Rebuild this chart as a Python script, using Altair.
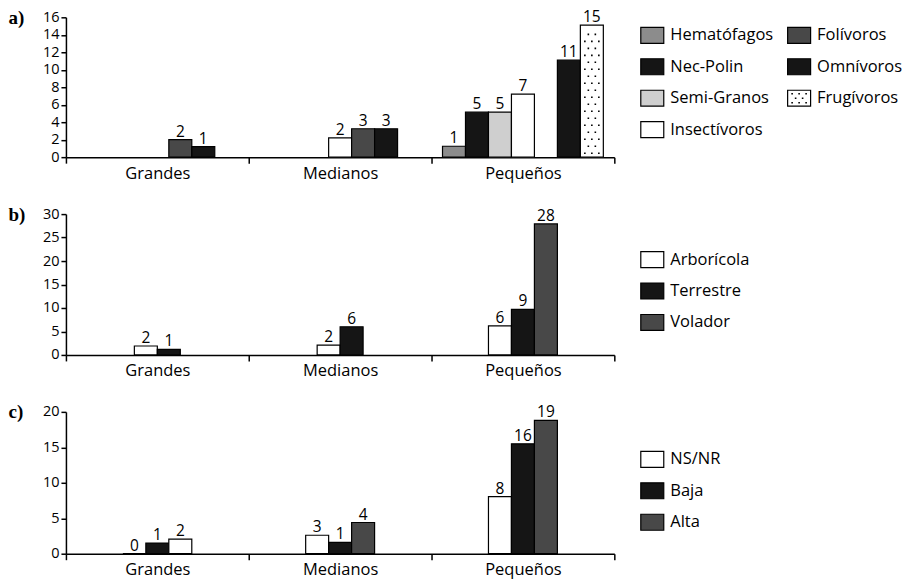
import altair as alt
import pandas as pd

# ---------------- data ----------------
SIZES = ["Grandes", "Medianos", "Pequeños"]

# a) diet guilds (bar heights as drawn, and printed labels)
A_SERIES = ["Hematófagos", "Nec-Polin", "Semi-Granos", "Insectívoros",
            "Folívoros", "Omnívoros", "Frugívoros"]
A_HEMATOFAGOS = [None, None, 1.25]
A_NECPOLIN = [None, None, 5.15]
A_SEMIGRANOS = [None, None, 5.15]
A_INSECTIVOROS = [None, 2.2, 7.2]
A_FOLIVOROS = [2.0, 3.25, None]
A_OMNIVOROS = [1.2, 3.25, 11.1]
A_FRUGIVOROS = [None, None, 15.1]
A_LABELS = [["", "", "1"], ["", "", "5"], ["", "", "5"], ["", "2", "7"],
            ["2", "3", ""], ["1", "3", "11"], ["", "", "15"]]

# b) habitat
B_SERIES = ["Arborícola", "Terrestre", "Volador"]
B_ARBORICOLA = [1.9, 2.1, 6.2]
B_TERRESTRE = [1.2, 6.0, 9.7]
B_VOLADOR = [None, None, 27.9]
B_LABELS = [["2", "2", "6"], ["1", "6", "9"], ["", "", "28"]]

# c) abundance
C_SERIES = ["NS/NR", "Baja", "Alta"]
C_NSNR = [0.0, 2.6, 8.05]
C_BAJA = [1.5, 1.6, 15.5]
C_ALTA = [2.05, 4.4, 18.8]
C_LABELS = [["0", "3", "8"], ["1", "1", "16"], ["2", "4", "19"]]

# ---------------- style ----------------
FONT = "Open Sans"
BLACK = "#151515"
DARK = "#484848"
MID = "#8c8c8c"
LIGHT = "#cfcfcf"
WHITE = "#ffffff"
FILLS = {
    "Hematófagos": MID, "Nec-Polin": BLACK, "Semi-Granos": LIGHT,
    "Insectívoros": WHITE, "Folívoros": DARK, "Omnívoros": BLACK,
    "Frugívoros": WHITE,
    "Arborícola": WHITE, "Terrestre": BLACK, "Volador": DARK,
    "NS/NR": WHITE, "Baja": BLACK, "Alta": DARK,
}
# the printed figure shows the "Grandes / Alta" bar unfilled
FILL_OVERRIDE = {("Grandes", "Alta"): WHITE}

W = 549
BAND = W / 3
BAR_W = 23
STEP = BAR_W / 2    # half-slot width
NHALF = 15          # half-slots per size class
LEG_W = 268

DOT_ROW_A = "M-7.8,-0.8h1.6v1.6h-1.6zM-0.8,-0.8h1.6v1.6h-1.6zM6.2,-0.8h1.6v1.6h-1.6z"
DOT_ROW_B = "M-4.3,-0.8h1.6v1.6h-1.6zM2.7,-0.8h1.6v1.6h-1.6z"
SWATCH = "M-11.5,-8H11.5V8H-11.5Z"
SWATCH_DOTS = ("M-7.8,-5.3h1.6v1.6h-1.6zM-0.8,-5.3h1.6v1.6h-1.6zM6.2,-5.3h1.6v1.6h-1.6z"
               "M-4.3,-0.8h1.6v1.6h-1.6zM2.7,-0.8h1.6v1.6h-1.6z"
               "M-7.8,3.7h1.6v1.6h-1.6zM-0.8,3.7h1.6v1.6h-1.6zM6.2,3.7h1.6v1.6h-1.6z")


def build(series, heights, labels, centered):
    rows = []
    for si, s in enumerate(series):
        for gi, g in enumerate(SIZES):
            h = heights[si][gi]
            if h is None:
                continue
            rows.append(dict(size=g, series=s, value=h, label=labels[si][gi],
                             order=si,
                             fill=FILL_OVERRIDE.get((g, s), FILLS[s])))
    df = pd.DataFrame(rows)
    k = len(series)
    base_slot = (NHALF - (2 * k - 1)) // 2
    if centered:
        df["rank"] = df.groupby("size")["order"].rank(method="first").astype(int) - 1
        df["n"] = df.groupby("size")["order"].transform("count")
        df["slot"] = 2 * df["rank"] + (k - df["n"]) + base_slot
    else:
        df["slot"] = 2 * df["order"] + base_slot
    return df


def panel(df, ymax, ystep, tag, height, dots=False):
    po = (BAND / STEP - NHALF) / 2
    yaxis = alt.Axis(values=list(range(0, ymax + 1, ystep)), grid=False,
                     tickSize=5, tickWidth=1.5, domainWidth=1.5, labelPadding=2,
                     labelFontSize=14.5, title=tag, titleAngle=0, titleX=-58,
                     titleY=0, titleAlign="left", titleBaseline="middle",
                     titleFont="Liberation Serif", titleFontSize=19,
                     titleFontWeight="bold", titleColor="black")
    yscale = alt.Scale(domain=[0, ymax], nice=False, zero=True)
    base = alt.Chart(df).encode(
        x=alt.X("size:N", sort=SIZES,
                scale=alt.Scale(domain=SIZES, paddingInner=0, paddingOuter=0),
                axis=alt.Axis(title=None, labelAngle=0, tickBand="extent",
                              tickSize=6, tickWidth=1.5, domainWidth=1.5,
                              labelPadding=2, labelFontSize=16.5)),
        xOffset=alt.XOffset("slot:O",
                            scale=alt.Scale(domain=list(range(NHALF)),
                                            paddingInner=0, paddingOuter=po)),
        y=alt.Y("value:Q", scale=yscale, axis=yaxis),
    )
    bars = base.mark_bar(width=BAR_W, stroke="black", strokeWidth=1.2).encode(
        fill=alt.Fill("fill:N", scale=None))
    text = base.mark_text(baseline="alphabetic", dy=-3, font=FONT,
                          fontSize=15.5, color="black").encode(text="label:N")
    layers = [bars, text]
    if dots:
        dl = base.transform_filter("datum.series == 'Frugívoros'").transform_calculate(
            dots="sequence(0.45, datum.value - 0.3, 0.8)"
        ).transform_flatten(["dots"]).transform_calculate(
            par="(round((datum.dots - 0.45) / 0.8) % 2) == 0 ? 'a' : 'b'"
        ).mark_point(filled=True, size=4, strokeWidth=0, opacity=1,
                     color="black").encode(
            y=alt.Y("dots:Q", scale=yscale, axis=yaxis),
            shape=alt.Shape("par:N", scale=alt.Scale(domain=["a", "b"],
                                                    range=[DOT_ROW_A, DOT_ROW_B]),
                            legend=None))
        layers.append(dl)
    return alt.layer(*layers).properties(width=W, height=height)


def legend(series, per_col, first_row_px, height, dots=False):
    df = pd.DataFrame({"name": series, "idx": list(range(len(series)))})
    df["col"] = df["idx"] // per_col
    df["row"] = df["idx"] % per_col
    df["fill"] = df["name"].map(FILLS)
    step = 31.5
    y0 = -first_row_px / step
    y1 = y0 + height / step
    col_step = 147
    x0 = -23 / col_step
    x1 = x0 + LEG_W / col_step
    base = alt.Chart(df).encode(
        x=alt.X("col:Q", scale=alt.Scale(domain=[x0, x1], nice=False, zero=False), axis=None),
        y=alt.Y("row:Q", scale=alt.Scale(domain=[y0, y1], nice=False, zero=False,
                                         reverse=True), axis=None),
    )
    sw = base.mark_point(shape=SWATCH, size=4, stroke="black", strokeWidth=1.2,
                         opacity=1, fillOpacity=1).encode(
        fill=alt.Fill("fill:N", scale=None))
    tx = base.mark_text(align="left", baseline="middle", dx=18, font=FONT,
                        fontSize=16.5, color="black").encode(text="name:N")
    layers = [sw, tx]
    if dots:
        layers.append(base.transform_filter("datum.name == 'Frugívoros'").mark_point(
            shape=SWATCH_DOTS, size=4, filled=True, strokeWidth=0, opacity=1,
            color="black"))
    return alt.layer(*layers).properties(width=LEG_W, height=height)


A = build(A_SERIES, [A_HEMATOFAGOS, A_NECPOLIN, A_SEMIGRANOS, A_INSECTIVOROS,
                     A_FOLIVOROS, A_OMNIVOROS, A_FRUGIVOROS], A_LABELS, False)
B = build(B_SERIES, [B_ARBORICOLA, B_TERRESTRE, B_VOLADOR], B_LABELS, True)
C = build(C_SERIES, [C_NSNR, C_BAJA, C_ALTA], C_LABELS, False)

row_a = alt.hconcat(panel(A, 16, 2, "a)", 140, dots=True),
                    legend(A_SERIES, 4, 18, 140, dots=True),
                    spacing=15, bounds="flush")
row_b = alt.hconcat(panel(B, 30, 5, "b)", 141),
                    legend(B_SERIES, 3, 45.5, 141),
                    spacing=15, bounds="flush")
row_c = alt.hconcat(panel(C, 20, 5, "c)", 142),
                    legend(C_SERIES, 3, 47.5, 142),
                    spacing=15, bounds="flush")

chart = alt.vconcat(row_a, row_b, row_c, spacing=23).properties(
    padding=0, background="white"
).configure_view(stroke=None).configure_axis(
    domainColor="black", tickColor="black", labelColor="black",
    labelFont=FONT, titleColor="black"
)

chart.save("out.html", embed_options={"renderer": "svg", "actions": False})
